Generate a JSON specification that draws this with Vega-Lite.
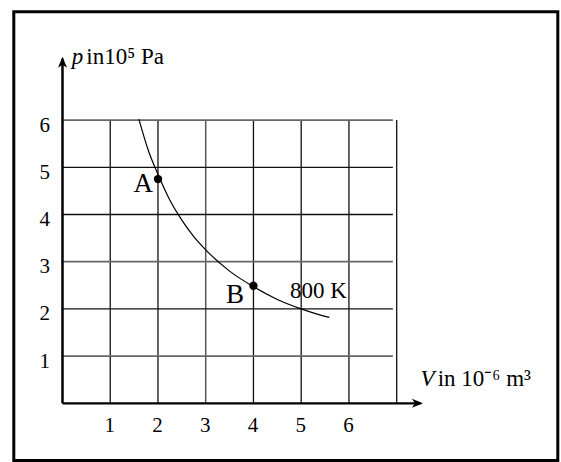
{
  "$schema": "https://vega.github.io/schema/vega-lite/v6.json",
  "width": 561,
  "height": 462,
  "autosize": "none",
  "padding": 0,
  "background": "white",
  "config": {"view": {"stroke": null}},
  "datasets": {
    "gridDarkV": [{"V": 1, "p": 0, "p2": 6}, {"V": 2, "p": 0, "p2": 6}, {"V": 4, "p": 0, "p2": 6}, {"V": 5, "p": 0, "p2": 6}, {"V": 6, "p": 0, "p2": 6}, {"V": 7, "p": 0, "p2": 6}],
    "gridGreyV": [{"V": 3, "p": 0, "p2": 6}],
    "gridDarkH": [{"V": 0, "V2": 6.92, "p": 2}, {"V": 0, "V2": 6.92, "p": 4}, {"V": 0, "V2": 6.92, "p": 5}],
    "gridGreyH": [{"V": 0, "V2": 6.92, "p": 1}, {"V": 0, "V2": 6.92, "p": 3}, {"V": 0, "V2": 6.92, "p": 6}],
    "axisY": [{"V": 0, "p": 0, "p2": 7.3}],
    "axisX": [{"V": 0, "V2": 7.5, "p": 0}],
    "arrowY": [{"V": 0, "p": 7.34}],
    "arrowX": [{"V": 7.55, "p": 0}],
    "frame": [{"V": -1.02, "V2": 10.375, "p": -1.212, "p2": 8.297}],
    "curve": [
      {"V": 1.6, "p": 6.02}, {"V": 1.8, "p": 5.35}, {"V": 2.0, "p": 4.85}, {"V": 2.25, "p": 4.3},
      {"V": 2.5, "p": 3.88}, {"V": 2.75, "p": 3.53}, {"V": 3.0, "p": 3.25}, {"V": 3.5, "p": 2.8},
      {"V": 4.0, "p": 2.47}, {"V": 4.5, "p": 2.2}, {"V": 5.0, "p": 2.0}, {"V": 5.3, "p": 1.9}, {"V": 5.59, "p": 1.82}
    ],
    "states": [{"V": 2.0, "p": 4.75}, {"V": 4.0, "p": 2.49}],
    "stateLabels": [{"V": 1.692, "p": 4.483, "label": "A"}, {"V": 3.613, "p": 2.119, "label": "B"}],
    "tempLabel": [{"V": 4.765, "p": 2.225, "label": "800 K"}],
    "italicTitles": [{"V": 0.193, "p": 7.189, "label": "p"}, {"V": 7.5, "p": 0.367, "label": "V"}],
    "plainTitles": [{"V": 0.5, "p": 7.189, "label": "in10⁵ Pa"}, {"V": 7.86, "p": 0.367, "label": "in 10⁻⁶ m³"}]
  },
  "encoding": {
    "x": {
      "field": "V", "type": "quantitative",
      "scale": {"domain": [-1.309, 10.442], "nice": false, "zero": false},
      "axis": {"values": [1, 2, 3, 4, 5, 6], "title": null, "domain": false, "ticks": false, "tickSize": 0, "grid": false, "offset": -58.7, "labelPadding": 11, "labelFont": "Liberation Serif", "labelFontSize": 21, "labelColor": "black", "labelOffset": -1}
    },
    "y": {
      "field": "p", "type": "quantitative",
      "scale": {"domain": [-1.244, 8.544], "nice": false, "zero": false},
      "axis": {"values": [1, 2, 3, 4, 5, 6], "title": null, "domain": false, "ticks": false, "tickSize": 0, "grid": false, "offset": -62.5, "labelPadding": 13, "labelFont": "Liberation Serif", "labelFontSize": 21, "labelColor": "black", "labelOffset": 5}
    }
  },
  "layer": [
    {"data": {"name": "frame"}, "mark": {"type": "rect", "fill": null, "fillOpacity": 0, "stroke": "black", "strokeWidth": 3}, "encoding": {"x2": {"field": "V2"}, "y2": {"field": "p2"}}},
    {"data": {"name": "gridDarkV"}, "mark": {"type": "rule", "color": "#111", "strokeWidth": 1.3}, "encoding": {"y2": {"field": "p2"}}},
    {"data": {"name": "gridGreyV"}, "mark": {"type": "rule", "color": "#555", "strokeWidth": 1.5}, "encoding": {"y2": {"field": "p2"}}},
    {"data": {"name": "gridDarkH"}, "mark": {"type": "rule", "color": "#111", "strokeWidth": 1.3}, "encoding": {"x2": {"field": "V2"}}},
    {"data": {"name": "gridGreyH"}, "mark": {"type": "rule", "color": "#666", "strokeWidth": 1.8}, "encoding": {"x2": {"field": "V2"}}},
    {"data": {"name": "axisY"}, "mark": {"type": "rule", "color": "black", "strokeWidth": 2.5}, "encoding": {"y2": {"field": "p2"}}},
    {"data": {"name": "axisX"}, "mark": {"type": "rule", "color": "black", "strokeWidth": 2.2}, "encoding": {"x2": {"field": "V2"}}},
    {"data": {"name": "arrowY"}, "mark": {"type": "point", "shape": "M0,0L-4.5,11L0,8L4.5,11Z", "size": 4, "filled": true, "color": "black", "opacity": 1, "strokeWidth": 0}},
    {"data": {"name": "arrowX"}, "mark": {"type": "point", "shape": "M0,0L-4.5,11L0,8L4.5,11Z", "size": 4, "angle": 90, "filled": true, "color": "black", "opacity": 1, "strokeWidth": 0}},
    {"data": {"name": "curve"}, "mark": {"type": "line", "interpolate": "monotone", "color": "black", "strokeWidth": 1.2}},
    {"data": {"name": "states"}, "mark": {"type": "point", "shape": "circle", "size": 70, "filled": true, "color": "black", "opacity": 1}},
    {"data": {"name": "stateLabels"}, "mark": {"type": "text", "font": "Liberation Serif", "fontSize": 27, "align": "center", "baseline": "alphabetic", "color": "black"}, "encoding": {"text": {"field": "label"}}},
    {"data": {"name": "tempLabel"}, "mark": {"type": "text", "font": "Liberation Serif", "fontSize": 23, "align": "left", "baseline": "alphabetic", "color": "black"}, "encoding": {"text": {"field": "label"}}},
    {"data": {"name": "italicTitles"}, "mark": {"type": "text", "font": "Liberation Serif", "fontStyle": "italic", "fontSize": 23, "align": "left", "baseline": "alphabetic", "color": "black"}, "encoding": {"text": {"field": "label"}}},
    {"data": {"name": "plainTitles"}, "mark": {"type": "text", "font": "Liberation Serif", "fontSize": 23, "align": "left", "baseline": "alphabetic", "color": "black"}, "encoding": {"text": {"field": "label"}}}
  ]
}
